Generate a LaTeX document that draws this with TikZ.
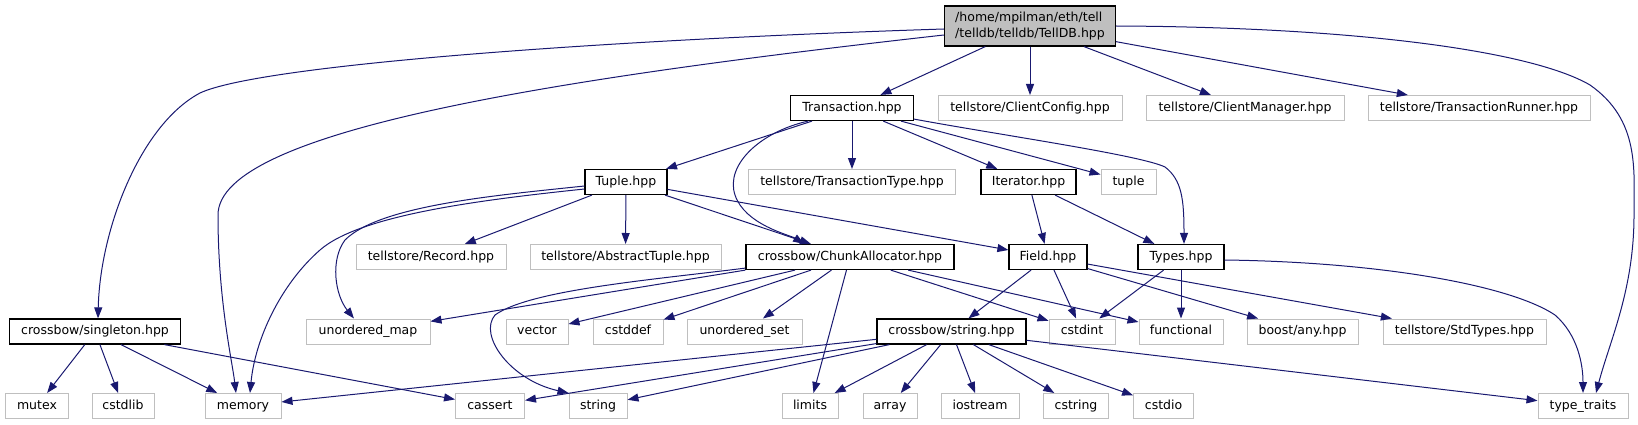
\documentclass[tikz,border=0pt]{standalone}
\usepackage{fontspec}
\setmainfont{DejaVu Sans}
\usetikzlibrary{arrows.meta}
\definecolor{azularista}{HTML}{191970}
\definecolor{grisborde}{HTML}{BFBFBF}
\begin{document}
\begin{tikzpicture}[x=1pt, y=-1pt, every node/.style={rectangle, inner sep=0pt, minimum height=25pt, font=\fontsize{12.5}{15.5}\selectfont},
    ext/.style={draw=grisborde, line width=1pt, text height=9.5pt, text depth=3pt},
    doc/.style={draw=black, line width=1.2pt, text height=9.5pt, text depth=3pt},
    arista/.style={draw=azularista, line width=1pt, -{Triangle[length=11pt,width=8pt]}}]

     \useasboundingbox (0,0) rectangle (1638,425);

     % Archivo raíz
     \node[draw=black, fill=grisborde, line width=1.2pt, minimum width=171pt, minimum height=40pt, align=left] (raiz) at (1030,26) {/home/mpilman/eth/tell\\/telldb/telldb/TellDB.hpp};

     % Primer nivel
     \node[doc, minimum width=123pt] (trans) at (852,108) {Transaction.hpp};
     \node[ext, minimum width=184pt] (cconfig) at (1030,108) {tellstore/ClientConfig.hpp};
     \node[ext, minimum width=198pt] (cmanager) at (1245,108) {tellstore/ClientManager.hpp};
     \node[ext, minimum width=222pt] (trunner) at (1479,108) {tellstore/TransactionRunner.hpp};

     % Segundo nivel
     \node[doc, minimum width=82pt] (tuplehpp) at (626,182) {Tuple.hpp};
     \node[ext, minimum width=207pt] (ttype) at (852,182) {tellstore/TransactionType.hpp};
     \node[doc, minimum width=95pt] (iter) at (1028.5,182) {Iterator.hpp};
     \node[ext, minimum width=55pt] (tuple) at (1128.5,182) {tuple};

     % Tercer nivel
     \node[ext, minimum width=150pt] (record) at (431,257) {tellstore/Record.hpp};
     \node[ext, minimum width=191pt] (abstuple) at (625.5,257) {tellstore/AbstractTuple.hpp};
     \node[doc, minimum width=208pt] (chunk) at (850,257) {crossbow/ChunkAllocator.hpp};
     \node[doc, minimum width=78pt] (field) at (1048,257) {Field.hpp};
     \node[doc, minimum width=86pt] (types) at (1181,257) {Types.hpp};

     % Cuarto nivel
     \node[doc, minimum width=171pt] (single) at (95,331.5) {crossbow/singleton.hpp};
     \node[ext, minimum width=124pt] (umap) at (368,331.5) {unordered\_map};
     \node[ext, minimum width=62pt] (vector) at (537,331.5) {vector};
     \node[ext, minimum width=70pt] (cstddef) at (628,331.5) {cstddef};
     \node[ext, minimum width=115pt] (uset) at (744.5,331.5) {unordered\_set};
     \node[doc, minimum width=149pt] (strhpp) at (951.5,331.5) {crossbow/string.hpp};
     \node[ext, minimum width=66pt] (cstdint) at (1082,331.5) {cstdint};
     \node[ext, minimum width=84pt] (functional) at (1181,331.5) {functional};
     \node[ext, minimum width=111pt] (anyhpp) at (1302.5,331.5) {boost/any.hpp};
     \node[ext, minimum width=163pt] (stdtypes) at (1464.5,331.5) {tellstore/StdTypes.hpp};

     % Cabeceras estándar
     \node[ext, minimum width=63pt] (mutex) at (37,406) {mutex};
     \node[ext, minimum width=62pt] (cstdlib) at (123,406) {cstdlib};
     \node[ext, minimum width=76pt] (memory) at (243,406) {memory};
     \node[ext, minimum width=69pt] (cassert) at (490,406) {cassert};
     \node[ext, minimum width=58pt] (string) at (598,406) {string};
     \node[ext, minimum width=56pt] (limits) at (810,406) {limits};
     \node[ext, minimum width=54pt] (array) at (890,406) {array};
     \node[ext, minimum width=78pt] (iostream) at (980,406) {iostream};
     \node[ext, minimum width=65pt] (cstring) at (1076,406) {cstring};
     \node[ext, minimum width=60pt] (cstdio) at (1163.6,406) {cstdio};
     \node[ext, minimum width=90pt] (ttraits) at (1583,406) {type\_traits};

     % Aristas desde la raíz
     \draw[arista] ([yshift=-3pt]raiz.west) .. controls (600,40) and (260,65) .. (200,93) .. controls (140,125) and (100,230) .. ([xshift=3pt]single.north);
     \draw[arista] ([yshift=-9pt]raiz.west) .. controls (560,78) and (218,130) .. (218,215) .. controls (218,300) and (232,360) .. ([xshift=-7pt]memory.north);
     \draw[arista] (raiz) -- (trans);
     \draw[arista] (raiz) -- (cconfig);
     \draw[arista] (raiz) -- (cmanager);
     \draw[arista] (raiz) -- (trunner);
     \draw[arista] (raiz.east) .. controls (1350,27) and (1530,50) .. (1590,85) .. controls (1640,120) and (1634,170) .. (1634,215) .. controls (1634,290) and (1610,340) .. ([xshift=13pt]ttraits.north);

     % Aristas desde Transaction.hpp
     \draw[arista] (trans) -- (tuplehpp);
     \draw[arista] (trans) -- (ttype);
     \draw[arista] (trans) -- (iter);
     \draw[arista] (trans) -- (tuple);
     \draw[arista] ([yshift=2pt]trans.south east) .. controls (1000,135) and (1140,155) .. (1165,167) .. controls (1182,180) and (1184,200) .. ([xshift=3pt]types.north);
     \draw[arista] ([xshift=-44pt]trans.south) .. controls (760,132) and (725,165) .. (735,195) .. controls (745,225) and (790,235) .. ([xshift=-46pt]chunk.north);

     % Aristas desde Tuple.hpp
     \draw[arista] (tuplehpp) -- (record);
     \draw[arista] (tuplehpp) -- (abstuple);
     \draw[arista] (tuplehpp) -- (chunk);
     \draw[arista] (tuplehpp) -- (field);
     \draw[arista] ([yshift=-4pt]tuplehpp.west) .. controls (500,195) and (380,205) .. (345,240) .. controls (330,260) and (335,295) .. ([xshift=-14pt]umap.north);
     \draw[arista] ([yshift=-7pt]tuplehpp.west) .. controls (480,200) and (360,215) .. (320,250) .. controls (280,285) and (255,340) .. ([xshift=7pt]memory.north);

     % Aristas desde Iterator.hpp
     \draw[arista] (iter) -- (field);
     \draw[arista] (iter) -- (types);

     % Aristas desde ChunkAllocator.hpp
     \draw[arista] (chunk.south west) -- (umap);
     \draw[arista] ([yshift=2pt]chunk.south west) .. controls (650,280) and (530,290) .. (495,315) .. controls (478,335) and (510,380) .. (string.north west);
     \draw[arista] (chunk) -- (vector);
     \draw[arista] (chunk) -- (cstddef);
     \draw[arista] (chunk) -- (uset);
     \draw[arista] (chunk) -- (limits);
     \draw[arista] (chunk) -- (cstdint);
     \draw[arista] (chunk) -- (functional);

     % Aristas desde Field.hpp
     \draw[arista] (field) -- (strhpp);
     \draw[arista] (field) -- (cstdint);
     \draw[arista] (field) -- (anyhpp);
     \draw[arista] (field) -- (stdtypes);

     % Aristas desde Types.hpp
     \draw[arista] (types) -- (cstdint);
     \draw[arista] (types) -- (functional);
     \draw[arista] ([yshift=-3pt]types.east) .. controls (1380,262) and (1510,285) .. (1555,315) .. controls (1578,335) and (1583,365) .. (ttraits.north);

     % Aristas desde string.hpp
     \draw[arista] (strhpp) -- (memory);
     \draw[arista] (strhpp) -- (cassert);
     \draw[arista] (strhpp) -- (string);
     \draw[arista] (strhpp) -- (limits);
     \draw[arista] (strhpp) -- (array);
     \draw[arista] (strhpp) -- (iostream);
     \draw[arista] (strhpp) -- (cstring);
     \draw[arista] (strhpp) -- (cstdio);
     \draw[arista] (strhpp) -- (ttraits);

     % Aristas desde singleton.hpp
     \draw[arista] (single) -- (mutex);
     \draw[arista] (single) -- (cstdlib);
     \draw[arista] (single) -- (memory);
     \draw[arista] (single) -- (cassert);

   \end{tikzpicture}
\end{document}
